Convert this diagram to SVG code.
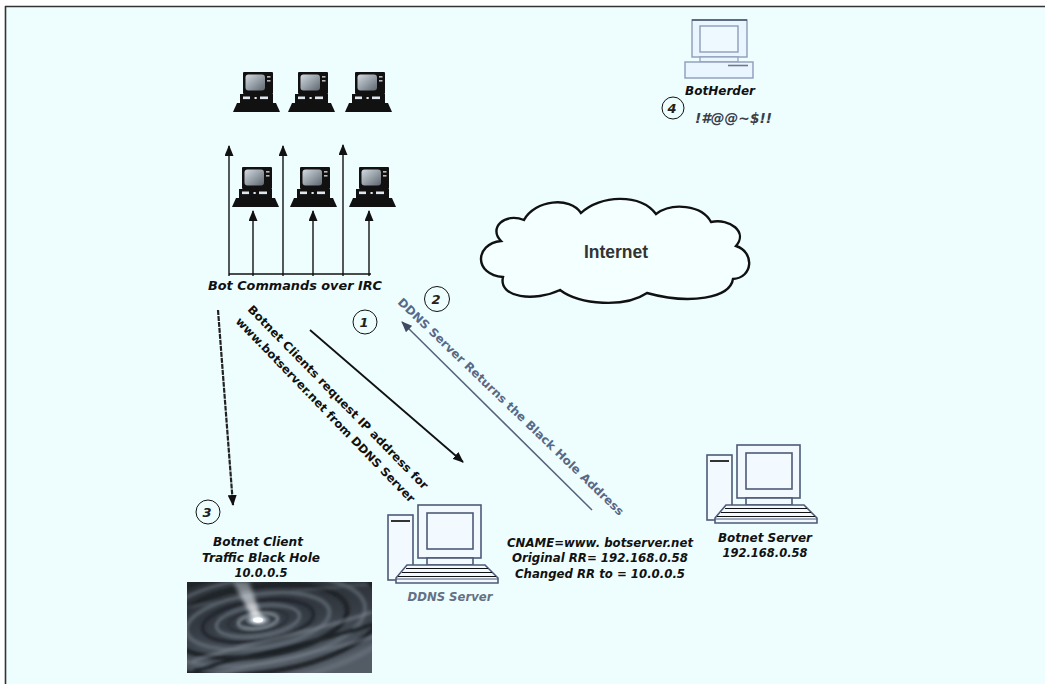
<svg xmlns="http://www.w3.org/2000/svg" xmlns:xlink="http://www.w3.org/1999/xlink" width="1045" height="684" viewBox="0 0 1045 684">
  <style>
    .lbl { font-family: "DejaVu Sans", Verdana, sans-serif; font-weight: bold; font-style: italic; fill: #111; }
    .num { font-family: "DejaVu Sans", Verdana, sans-serif; font-weight: bold; font-style: italic; font-size: 13px; fill: #222; text-anchor: middle; }
    .ring { fill: none; stroke: #111; stroke-width: 1; }
    .diag { font-family: "DejaVu Sans", Verdana, sans-serif; font-weight: bold; font-size: 11.5px; }
    .pcline { stroke: #4d5b78; stroke-width: 1.6; fill: #f2f9ff; }
  </style>
  <defs>
    <linearGradient id="scr" x1="0" y1="0" x2="1" y2="1">
      <stop offset="0" stop-color="#d4dbe2"/>
      <stop offset="1" stop-color="#5d666f"/>
    </linearGradient>
    <!-- retro workstation: monitor, drive unit and base -->
    <g id="retro">
      <rect x="10" y="0" width="30" height="22" rx="1" fill="#111"/>
      <rect x="12.5" y="2.5" width="19.5" height="16" rx="3" fill="url(#scr)"/>
      <rect x="34" y="4" width="3.5" height="1.6" fill="#bbb"/>
      <rect x="34" y="8" width="3.5" height="1.6" fill="#bbb"/>
      <rect x="7" y="22" width="33" height="9" fill="#111"/>
      <rect x="10" y="24.5" width="7" height="2.6" fill="#dfe6ee"/>
      <rect x="21.5" y="25" width="2.2" height="2" fill="#dfe6ee"/>
      <rect x="27" y="24.5" width="8" height="2.6" fill="#dfe6ee"/>
      <polygon points="0,40 4,31 43,31 47,40" fill="#111"/>
    </g>
    <!-- line-art PC: tower, monitor, keyboard -->
    <g id="pc">
      <rect class="pcline" x="0" y="10" width="25" height="65"/>
      <rect x="3" y="15" width="19" height="2" fill="#333"/>
      <rect class="pcline" x="30" y="0" width="63" height="53"/>
      <rect class="pcline" x="39" y="8" width="46" height="36"/>
      <rect class="pcline" x="39" y="53" width="46" height="7"/>
      <polygon class="pcline" points="19,60 97,60 110,73 110,78 8,78 8,73"/>
      <line x1="18" y1="63.5" x2="100" y2="63.5" stroke="#111" stroke-width="1.2"/>
      <line x1="14" y1="67.5" x2="104" y2="67.5" stroke="#111" stroke-width="1.2"/>
      <line x1="10" y1="71.5" x2="108" y2="71.5" stroke="#111" stroke-width="1.2"/>
      <line x1="8" y1="74" x2="110" y2="74" stroke="#4d5b78" stroke-width="1"/>
    </g>
    <marker id="ahBlack" markerUnits="userSpaceOnUse" markerWidth="11" markerHeight="9" refX="10" refY="4.5" orient="auto">
      <path d="M0,0 L11,4.5 L0,9 Z" fill="#111"/>
    </marker>
    <marker id="ahGrey" markerUnits="userSpaceOnUse" markerWidth="11" markerHeight="9" refX="10" refY="4.5" orient="auto">
      <path d="M0,0 L11,4.5 L0,9 Z" fill="#3f4a60"/>
    </marker>
    <linearGradient id="bhBg" x1="0" y1="0" x2="0.3" y2="1">
      <stop offset="0" stop-color="#262a30"/>
      <stop offset="0.5" stop-color="#363c44"/>
      <stop offset="1" stop-color="#535b65"/>
    </linearGradient>
    <radialGradient id="bhCore" cx="0.5" cy="0.5" r="0.5">
      <stop offset="0" stop-color="#ffffff"/>
      <stop offset="0.35" stop-color="#dfe9f2" stop-opacity="0.9"/>
      <stop offset="1" stop-color="#9aa8b5" stop-opacity="0"/>
    </radialGradient>
    <linearGradient id="beam" x1="0" y1="0" x2="0" y2="1">
      <stop offset="0" stop-color="#c9d3dc" stop-opacity="0.45"/>
      <stop offset="1" stop-color="#ffffff" stop-opacity="0.9"/>
    </linearGradient>
    <filter id="soft" x="-20%" y="-20%" width="140%" height="140%">
      <feGaussianBlur stdDeviation="1.5"/>
    </filter>
    <filter id="softer" x="-50%" y="-50%" width="200%" height="200%">
      <feGaussianBlur stdDeviation="2.2"/>
    </filter>
    <clipPath id="bhClip">
      <rect x="187" y="582" width="185" height="91"/>
    </clipPath>
  </defs>

  <!-- page and frame -->
  <rect x="0" y="0" width="1045" height="684" fill="#ffffff"/>
  <rect x="5" y="6" width="1040" height="678" fill="#eefeff"/>
  <line x1="5" y1="6.5" x2="1045" y2="6.5" stroke="#333" stroke-width="1.6"/>
  <line x1="5.5" y1="6" x2="5.5" y2="684" stroke="#333" stroke-width="1.6"/>

  <!-- IRC bots -->
  <g id="bots-top">
    <use href="#retro" transform="translate(233,72)"/>
    <use href="#retro" transform="translate(288,72)"/>
    <use href="#retro" transform="translate(345,72)"/>
  </g>
  <g id="bots-bottom">
    <use href="#retro" transform="translate(232,167)"/>
    <use href="#retro" transform="translate(290,167)"/>
    <use href="#retro" transform="translate(349,167)"/>
  </g>

  <!-- connectors -->
  <g id="connectors" fill="none">
    <line x1="229" y1="274" x2="371" y2="274" stroke="#111" stroke-width="1.4"/>
    <line x1="229" y1="276" x2="229" y2="146" stroke="#111" stroke-width="1.4" marker-end="url(#ahBlack)"/>
    <line x1="283" y1="276" x2="283" y2="146" stroke="#111" stroke-width="1.4" marker-end="url(#ahBlack)"/>
    <line x1="343" y1="276" x2="343" y2="145" stroke="#111" stroke-width="1.4" marker-end="url(#ahBlack)"/>
    <line x1="253" y1="276" x2="253" y2="211" stroke="#111" stroke-width="1.4" marker-end="url(#ahBlack)"/>
    <line x1="313" y1="276" x2="313" y2="211" stroke="#111" stroke-width="1.4" marker-end="url(#ahBlack)"/>
    <line x1="369" y1="276" x2="369" y2="211" stroke="#111" stroke-width="1.4" marker-end="url(#ahBlack)"/>
    <!-- 1: request to DDNS -->
    <line x1="310" y1="330" x2="463" y2="462" stroke="#111" stroke-width="1.8" marker-end="url(#ahBlack)"/>
    <!-- 2: DDNS reply -->
    <line x1="592" y1="510" x2="402" y2="322" stroke="#56627c" stroke-width="1.5" marker-end="url(#ahGrey)"/>
    <!-- 3: traffic to black hole -->
    <line x1="218" y1="310" x2="233" y2="505" stroke="#222" stroke-width="2.2" stroke-dasharray="5 1" marker-end="url(#ahBlack)"/>
  </g>

  <!-- labels on the bot group and links -->
  <g id="irc-label">
    <text class="lbl" x="208" y="290" font-size="13" textLength="174" lengthAdjust="spacingAndGlyphs">Bot Commands over IRC</text>
  </g>
  <g id="request-label">
    <text class="diag" fill="#111" transform="translate(247,310) rotate(45.6)" textLength="252" lengthAdjust="spacingAndGlyphs">Botnet Clients request IP address for</text>
    <text class="diag" fill="#111" transform="translate(235,322) rotate(46)" textLength="252" lengthAdjust="spacingAndGlyphs">www.botserver.net from DDNS Server</text>
  </g>
  <g id="reply-label">
    <text class="diag" fill="#5a6884" transform="translate(397,303) rotate(43.8)" textLength="308" lengthAdjust="spacingAndGlyphs">DDNS Server Returns the Black Hole Address</text>
  </g>

  <!-- step markers -->
  <g id="step1"><circle class="ring" cx="365" cy="322" r="12"/><text class="num" x="364" y="327">1</text></g>
  <g id="step2"><circle class="ring" cx="437" cy="299" r="12.5"/><text class="num" x="436" y="304">2</text></g>
  <g id="step3"><circle class="ring" cx="208" cy="512" r="12"/><text class="num" x="207" y="517">3</text></g>
  <g id="step4"><circle class="ring" cx="673" cy="108" r="11"/><text class="num" x="672" y="113">4</text></g>

  <!-- Internet cloud -->
  <g id="internet">
    <path d="M501,241 C488,228 505,212 524,220 C535,200 570,196 581,213 C600,195 640,193 656,214 C672,202 702,205 711,222 C730,218 748,232 736,246 C755,252 753,278 733,279 C730,298 690,305 647,293 C625,308 580,305 560,290 C535,302 498,298 503,277 C474,275 474,244 501,241 Z" fill="#f4ffff" stroke="#111" stroke-width="2.4"/>
    <text x="616" y="258" font-family="'Liberation Sans', Arial, sans-serif" font-weight="bold" font-size="17.5" fill="#333" text-anchor="middle">Internet</text>
  </g>

  <!-- BotHerder -->
  <g id="botherder">
    <rect x="692" y="20" width="55" height="37" fill="#eaf6ff" stroke="#8e9cba" stroke-width="1.4"/>
    <line x1="692" y1="20" x2="747" y2="20" stroke="#44506a" stroke-width="1.4"/>
    <rect x="700" y="26" width="38" height="26" fill="#eef8ff" stroke="#8e9cba" stroke-width="1.4"/>
    <rect x="700" y="57" width="38" height="5" fill="#eaf6ff" stroke="#8e9cba" stroke-width="1.2"/>
    <rect x="685" y="62" width="68" height="16" fill="#eaf6ff" stroke="#8e9cba" stroke-width="1.4"/>
    <line x1="728" y1="65.5" x2="748" y2="65.5" stroke="#6c7890" stroke-width="1.6"/>
    <text class="lbl" x="720" y="95" font-size="11.5" text-anchor="middle" textLength="70" lengthAdjust="spacingAndGlyphs">BotHerder</text>
    <text class="lbl" x="695" y="123" font-size="14" style="fill:#3a3f4a" textLength="77" lengthAdjust="spacingAndGlyphs">!#@@~$!!</text>
  </g>

  <!-- DDNS server -->
  <g id="ddns-server">
    <use href="#pc" transform="translate(388,505)"/>
    <text class="lbl" x="450" y="601" font-size="11.5" text-anchor="middle" style="fill:#667084" textLength="85" lengthAdjust="spacingAndGlyphs">DDNS Server</text>
  </g>
  <g id="dns-record">
    <text class="lbl" x="600" y="547" font-size="11.5" text-anchor="middle" textLength="186" lengthAdjust="spacingAndGlyphs">CNAME=www. botserver.net</text>
    <text class="lbl" x="600" y="562" font-size="11.5" text-anchor="middle" textLength="176" lengthAdjust="spacingAndGlyphs">Original RR= 192.168.0.58</text>
    <text class="lbl" x="600" y="578" font-size="11.5" text-anchor="middle" textLength="170" lengthAdjust="spacingAndGlyphs">Changed RR to = 10.0.0.5</text>
  </g>

  <!-- Botnet server -->
  <g id="botnet-server">
    <use href="#pc" transform="translate(707,445)"/>
    <text class="lbl" x="765" y="542" font-size="11.5" text-anchor="middle" textLength="94" lengthAdjust="spacingAndGlyphs">Botnet Server</text>
    <text class="lbl" x="765" y="557" font-size="11.5" text-anchor="middle" textLength="85" lengthAdjust="spacingAndGlyphs">192.168.0.58</text>
  </g>

  <!-- Black hole sink -->
  <g id="black-hole">
    <text class="lbl" x="258" y="546" font-size="11.5" text-anchor="middle" textLength="90" lengthAdjust="spacingAndGlyphs">Botnet Client</text>
    <text class="lbl" x="261" y="562" font-size="11.5" text-anchor="middle" textLength="118" lengthAdjust="spacingAndGlyphs">Traffic Black Hole</text>
    <text class="lbl" x="261" y="577" font-size="11.5" text-anchor="middle" textLength="53" lengthAdjust="spacingAndGlyphs">10.0.0.5</text>
    <g clip-path="url(#bhClip)">
      <rect x="187" y="582" width="185" height="91" fill="url(#bhBg)"/>
      <g filter="url(#soft)" fill="none" transform="rotate(-8 258 621)">
        <ellipse cx="258" cy="621" rx="150" ry="62" stroke="#6c7781" stroke-width="6" opacity="0.6"/>
        <ellipse cx="258" cy="621" rx="128" ry="52" stroke="#1c2026" stroke-width="5"/>
        <ellipse cx="258" cy="621" rx="108" ry="43" stroke="#76818c" stroke-width="4" opacity="0.5"/>
        <ellipse cx="258" cy="621" rx="90" ry="35" stroke="#1d2126" stroke-width="5"/>
        <ellipse cx="258" cy="621" rx="72" ry="27" stroke="#6e7984" stroke-width="4" opacity="0.6"/>
        <ellipse cx="258" cy="621" rx="56" ry="20" stroke="#22272d" stroke-width="4"/>
        <ellipse cx="258" cy="621" rx="42" ry="15" stroke="#7f8a96" stroke-width="3" opacity="0.6"/>
        <ellipse cx="258" cy="621" rx="30" ry="10.5" stroke="#2a3037" stroke-width="3"/>
        <ellipse cx="258" cy="621" rx="20" ry="7" stroke="#9ba7b2" stroke-width="2.5" opacity="0.8"/>
        <path d="M187,652 C240,640 300,642 372,628" stroke="#8b96a0" stroke-width="3" opacity="0.5"/>
        <path d="M187,662 C240,652 310,652 372,640" stroke="#1f2328" stroke-width="4"/>
        <path d="M187,670 C250,662 320,662 372,652" stroke="#7f8a94" stroke-width="3" opacity="0.5"/>
        <path d="M187,598 C230,596 270,594 372,600" stroke="#59626c" stroke-width="3" opacity="0.5"/>
      </g>
      <polygon points="233,582 249,582 262,619 254,621" fill="url(#beam)" filter="url(#softer)"/>
      <ellipse cx="258" cy="620" rx="14" ry="7" fill="url(#bhCore)"/>
      <ellipse cx="258" cy="620" rx="5" ry="2.5" fill="#ffffff"/>
    </g>
  </g>
</svg>
